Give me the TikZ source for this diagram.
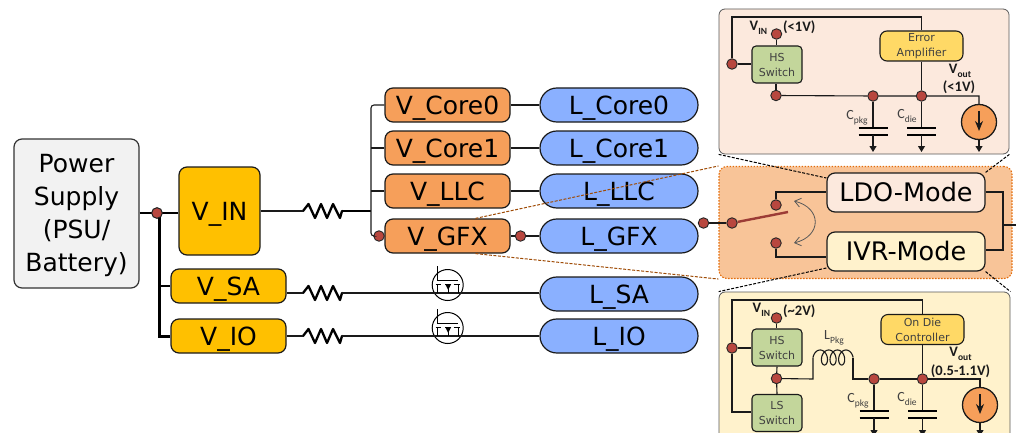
\documentclass[tikz,border=0pt]{standalone}
\usepackage{fontspec}
\setmainfont{DejaVu Sans}
\newfontfamily\carl{Carlito}
\usetikzlibrary{arrows.meta,calc}
\newcommand{\sbs}[2][9.5]{\raisebox{-.28em}{\fontsize{#1}{#1}\selectfont #2}}
\definecolor{psu}{HTML}{F2F2F2}
\definecolor{gold}{HTML}{FFC000}
\definecolor{oran}{HTML}{F69F5A}
\definecolor{blu}{HTML}{8AB0FF}
\definecolor{dotc}{HTML}{B8473F}
\definecolor{zone}{HTML}{F8C498}
\definecolor{ldo}{HTML}{FCE9DD}
\definecolor{ivr}{HTML}{FFF2CC}
\definecolor{ear}{HTML}{FFD966}
\definecolor{sw}{HTML}{C3D69B}
\definecolor{dotor}{HTML}{E36C0A}
\definecolor{drawk}{HTML}{1A1A1A}
\definecolor{txg}{HTML}{404040}
\tikzset{
  x=1pt,y=-1pt,
  box/.style={draw=drawk,line width=1.2pt,rounded corners=8pt,inner sep=0pt,text height=18pt,text depth=0pt,font=\fontsize{25}{28}\selectfont},
  vbox/.style={box,fill=gold,minimum width=115pt,minimum height=34pt},
  obox/.style={box,fill=oran,minimum width=125pt,minimum height=34pt},
  lbox/.style={box,fill=blu,minimum width=158pt,minimum height=34pt,rounded corners=16.9pt},
  mode/.style={box,minimum width=158pt,minimum height=39pt,font=\fontsize{25.5}{28}\selectfont},
  panel/.style={draw=black!65,line width=.8pt,rounded corners=6pt},
  sbox/.style={draw=drawk,line width=1.1pt,rounded corners=4pt,fill=sw,minimum width=50pt,minimum height=37pt,inner sep=0pt,align=center,text=txg,font=\fontsize{11}{15}\selectfont},
  ebox/.style={draw=drawk,line width=1.1pt,rounded corners=7pt,fill=ear,minimum width=83pt,minimum height=30pt,inner sep=0pt,align=center,text=txg,font=\fontsize{11}{15}\selectfont},
  dot/.style={circle,draw=black!85,line width=.9pt,fill=dotc,minimum size=10.5pt,inner sep=0pt},
  wire/.style={draw=drawk,line width=1.1pt},
  bus/.style={draw=black,line width=2.6pt},
  oline/.style={draw=dotor!70!black,line width=1pt,dash pattern=on 3pt off 1.5pt},
  kline/.style={draw=black,line width=1pt,dash pattern=on 3pt off 1.5pt},
  gnd/.style={wire,-{Triangle[length=6pt,width=7pt]}},
  blab/.style={inner sep=0pt,font=\carl\bfseries\fontsize{14.5}{16}\selectfont,text=drawk},
  clab/.style={inner sep=0pt,font=\carl\fontsize{14}{16}\selectfont,text=txg},
  isrc/.style={circle,draw=drawk,line width=1.3pt,fill=oran,minimum size=35pt,inner sep=0pt},
  mos/.style={circle,draw=black,line width=1pt,fill=white,minimum size=31pt,inner sep=0pt},
  resistor/.pic={
    \coordinate (l) at (0,0);
    \coordinate (r) at (39,0);
    \draw[draw=black,line width=2.3pt,line join=round,line cap=round] (0,0)--(5.5,-7)--(12,7)--(18,-7)--(24,7)--(30,-7)--(37,7)--(39,0);
  },
  mosfet/.pic={
    \draw[line width=1pt] (-10,-19)--(-10,-5)--(10.5,-5);
    \draw[line width=1pt] (-12,-1)--(-7,-1) (-2.5,-1)--(3.5,-1) (6,-1)--(12.5,-1);
    \draw[line width=1pt] (-10,-1)--(-10,8) (10.5,-1)--(10.5,8) (.5,3)--(.5,8);
    \fill (-2.5,-1)--(3.5,-1)--(.5,5)--cycle;
  },
}
\begin{document}
\begin{tikzpicture}
\useasboundingbox (0,0) rectangle (1016,433);
\clip (0,0) rectangle (1016,433);

% --- left column
\node[draw=black!80,line width=1.2pt,rounded corners=8pt,inner sep=0pt,fill=psu,minimum width=125pt,minimum height=149pt] (psu) at (76.5,213.5) {};
\node[inner sep=0pt,align=center,font=\fontsize{25}{33}\selectfont] (psut) at (76.5,215) {Power\\Supply\\(PSU/\\Battery)};
\node[box,fill=gold,minimum width=81pt,minimum height=88pt] (vin) at (219.5,211) {V\_IN};
\node[vbox] (vsa) at (228.5,286) {V\_SA};
\node[vbox] (vio) at (228.5,336) {V\_IO};
\node[dot] (jn) at (157,213) {};
\draw[bus] (psu.east|-jn) -- (vin.west|-jn);
\draw[bus,line width=3pt] (159,213) -- (159,336) -- (vio.west);
\draw[bus] (159,286) -- (vsa.west);
\node[dot] at (jn) {};

% --- resistors
\pic (ra) at (303,211) {resistor};
\pic (rb) at (303,293) {resistor};
\pic (rc) at (303,336) {resistor};
\coordinate (tr) at (371,211);

% --- mid column
\node[obox] (c0) at (447.5,105) {V\_Core0};
\node[obox] (c1) at (447.5,148) {V\_Core1};
\node[obox] (llc) at (447.5,191) {V\_LLC};
\node[obox] (gfx) at (447.5,236) {V\_GFX};
\node[lbox] (lc0) at (619,105) {L\_Core0};
\node[lbox] (lc1) at (619,148) {L\_Core1};
\node[lbox] (lllc) at (619,191) {L\_LLC};
\node[lbox] (lgfx) at (619,236) {L\_GFX};
\node[lbox] (lsa) at (619,294) {L\_SA};
\node[lbox] (lio) at (619,336) {L\_IO};

\draw[wire] (vin.east|-ral) -- (ral);
\draw[draw=black,line width=2pt] (rar) -- (tr);
\draw[wire] (vsa.east|-rbl) -- (rbl);
\draw[wire] (vio.east) -- (rcl);

\node[dot] (dg) at (379,236) {};
\draw[wire,rounded corners=3pt] (c0.west) -- (371,105) -- (tr) -- (371,236) -- (dg);
\draw[wire] (c1.west) -- (371,148);
\draw[wire] (llc.west) -- (371,191);
\draw[wire] (c0.east) -- (lc0.west);
\draw[wire] (c1.east) -- (lc1.west);
\draw[wire] (llc.east) -- (lllc.west);
\node[dot] (dgr) at (520.5,236) {};
\draw[wire] (gfx.east) -- (dgr) -- (lgfx.west);

% --- MOSFETs
\node[mos] (m1) at (447.7,285) {};
\node[mos] (m2) at (447.7,328) {};
\draw[wire] (rbr) -- (lsa.west|-rbr);
\draw[wire] (rcr) -- (lio.west);
\pic at (m1.center) {mosfet};
\pic at (m2.center) {mosfet};

% --- orange zone
\node[draw=dotor,fill=zone,line width=1.1pt,dash pattern=on 1.5pt off 1.5pt,rounded corners=8pt,minimum width=293pt,minimum height=112pt,inner sep=0pt] (zone) at (865.5,222.5) {};
\draw[oline] ($(gfx.north)+(28,0)$) -- (zone.north west);
\draw[oline] ($(gfx.south)+(28,0)$) -- (zone.south west);

% --- top panel
\node[panel,fill=ldo,minimum width=290pt,minimum height=145pt,inner sep=0pt] (tp) at (864,81.5) {};
% --- bottom panel
\node[panel,fill=ivr,minimum width=291pt,minimum height=160pt,inner sep=0pt] (bp) at (864.5,372) {};

% --- mode boxes
\node[mode,fill=ldo] (ldo) at (906,192.5) {LDO-Mode};
\node[mode,fill=ivr] (ivr) at (906,251.5) {IVR-Mode};
\draw[kline] (tp.south west) -- (ldo.west|-0,178);
\draw[kline] (ldo.north east) -- (tp.south east);
\draw[kline] (ivr.west|-0,268) -- (bp.north west);
\draw[kline] (ivr.south east) -- (bp.north east);

\node[dot] (d1) at (703.5,223) {};
\node[dot] (d2) at (732,223) {};
\node[dot] (d3) at (776,205) {};
\node[dot] (d4) at (776,243) {};
\coordinate (arm) at (788,212);
\draw[wire] (lgfx.east|-d1) -- (d1) -- (d2);
\draw[draw=dotc!85!black,line width=2.4pt] (d2) -- (arm);
\draw[wire] (d3) -- (776,192) -- (ldo.west|-0,192);
\draw[wire] (d4) -- (776,257) -- (ivr.west|-0,257);
\draw[wire] (ldo.east|-0,192) -- (1003,192) -- (1003,250) -- (ivr.east|-0,250);
\coordinate (outr) at (1016,225);
\draw[wire] (1003,225) -- (outr);
\draw[draw=black!65,line width=.8pt,{Straight Barb[length=6pt,width=9pt]}-{Straight Barb[length=6pt,width=9pt]}] (794,201) .. controls (822,208) and (822,236) .. (794,243);

% --- top panel circuit
\node[sbox] (hs1) at (777,64.5) {HS\\Switch};
\node[ebox] (ea) at (921.5,46) {Error\\Amplifier};
\node[dot] (t1) at (732,64) {};
\node[dot] (t2) at (776.5,34) {};
\node[dot] (t3) at (776,95.5) {};
\node[dot] (t4) at (873,96) {};
\node[dot] (t5) at (921.5,96) {};
\node[isrc] (s1) at (979,122) {};
\draw[wire] (t1) -- (hs1.west|-t1);
\draw[wire] (t1) -- (732,17) -- (921.5,17) -- (ea.north);
\draw[wire] (t2) -- (t2|-hs1.north);
\draw[wire] (t3) -- (t3|-hs1.south);
\draw[wire] (t3) -- (t4) -- (t5) -- (979,96) -- (s1.north);
\draw[wire] (ea.south) -- (t5);
\draw[wire,-{Stealth[length=10pt,width=8pt]}] (979,111) -- (979,131);
\draw[gnd] (s1.south) -- (979,152);
\foreach \n/\x in {t4/873,t5/921.5}{
  \draw[wire] (\n) -- (\x,127.5);
  \draw[draw=black,line width=2pt] (\x-14.5,127.5) -- (\x+14.5,127.5) (\x-14.5,134.5) -- (\x+14.5,134.5);
  \draw[gnd] (\x,134.5) -- (\x,152);
}
\node[blab,anchor=west] (tv) at (749.5,27.5) {V\sbs{IN}};
\node[blab,anchor=west] (tvv) at (783,27) {(<1V)};
\node[blab] (tvo) at (960,70.5) {V\sbs{out}};
\node[blab] (tvl) at (959,87.5) {(<1V)};
\node[clab] (tc1) at (857,118) {C\sbs{pkg}};
\node[clab] (tc2) at (907,116) {C\sbs{die}};

% --- bottom panel circuit
\node[sbox] (hs2) at (777,347.5) {HS\\Switch};
\node[sbox] (ls2) at (777,413) {LS\\Switch};
\node[ebox] (odc) at (922.5,329.5) {On Die\\Controller};
\node[dot] (b1) at (732,348) {};
\node[dot] (b2) at (776.5,318) {};
\node[dot] (b3) at (776.5,378.5) {};
\node[dot] (b4) at (874,379) {};
\node[dot] (b5) at (922.5,379) {};
\node[isrc] (s2) at (980,405) {};
\draw[wire] (b1) -- (hs2.west|-b1);
\draw[wire] (b1) -- (732,300) -- (922.5,300) -- (odc.north);
\draw[wire] (b1) -- (732,412) -- (ls2.west|-0,412);
\draw[wire] (b2) -- (b2|-hs2.north);
\draw[wire] (hs2.south) -- (b3) -- (ls2.north);
\coordinate (la) at (813,357.5);
\coordinate (lb) at (853,357.5);
\draw[wire] (b3) -- (813,379) -- (la);
\draw[wire] (lb) -- (853,379) -- (b4);
\draw[wire,line join=round] plot[domain=0:1260,samples=160,smooth] ({818+8.6*\x/360-5*cos(\x)},{357.5-7.5*sin(\x)});
\draw[wire] (b4) -- (b5) -- (980,379) -- (s2.north);
\draw[wire] (odc.south) -- (b5);
\draw[wire,-{Stealth[length=10pt,width=8pt]}] (980,394) -- (980,414);
\draw[gnd] (s2.south) -- (980,436);
\foreach \n/\x in {b4/874,b5/922.5}{
  \draw[wire] (\n) -- (\x,411);
  \draw[draw=black,line width=2pt] (\x-14.5,411) -- (\x+14.5,411) (\x-14.5,418) -- (\x+14.5,418);
  \draw[gnd] (\x,418) -- (\x,436);
}
\node[blab,anchor=west] (bv) at (752.5,310) {V\sbs{IN}};
\node[blab,anchor=west] (bvv) at (783,311) {(\textasciitilde 2V)};
\node[blab] (bvo) at (960.5,354) {V\sbs{out}};
\node[blab] (bvl) at (960.5,371) {(0.5-1.1V)};
\node[clab] (bl) at (834,338) {L\sbs{Pkg}};
\node[clab] (bc1) at (858,401) {C\sbs{pkg}};
\node[clab] (bc2) at (907,399) {C\sbs{die}};
\end{tikzpicture}
\end{document}
